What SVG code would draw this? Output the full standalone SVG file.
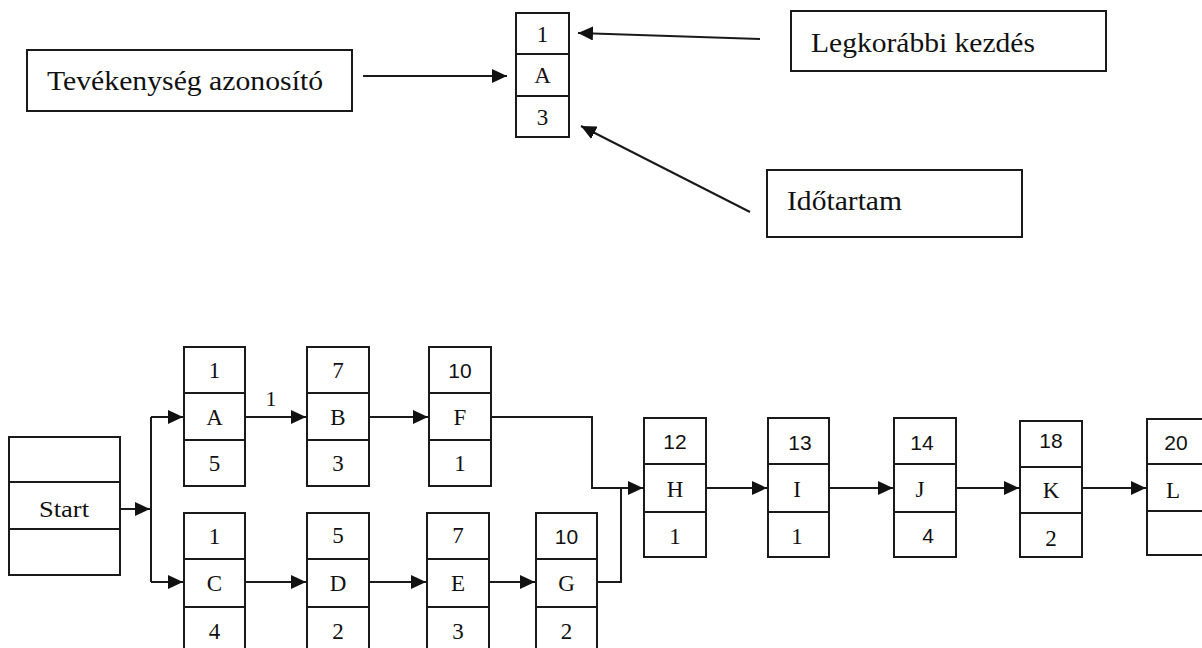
<svg xmlns="http://www.w3.org/2000/svg" width="1202" height="648" viewBox="0 0 1202 648">
  <defs>
    <marker id="arrow" markerUnits="userSpaceOnUse" markerWidth="16" markerHeight="14" refX="15" refY="7" orient="auto">
      <path d="M0,0 L15,7 L0,14 z" fill="#111"/>
    </marker>
    <style>
      .box { fill: #fff; stroke: #1a1a1a; stroke-width: 2; }
      .div { stroke: #1a1a1a; stroke-width: 2; }
      .conn { fill: none; stroke: #1a1a1a; stroke-width: 2; }
      .arr { marker-end: url(#arrow); }
      .lbl { font-family: "Liberation Serif", serif; font-size: 27px; fill: #111; }
      .mono { font-family: "Liberation Serif", serif; font-size: 23px; fill: #111; text-anchor: middle; }
      .sans { font-family: "Liberation Sans", sans-serif; font-size: 21px; fill: #111; text-anchor: middle; }
      .srf { font-family: "Liberation Serif", serif; font-size: 24px; fill: #111; text-anchor: middle; }
    </style>
  </defs>
  <rect width="1202" height="648" fill="#fff"/>

  <!-- legend -->
  <g id="legend-id">
    <rect class="box" x="27" y="50" width="325" height="61"/>
    <text class="lbl" x="47" y="90" textLength="276" lengthAdjust="spacingAndGlyphs">Tevékenység azonosító</text>
  </g>
  <g id="legend-node">
    <rect class="box" x="516" y="13" width="53" height="124"/>
    <line class="div" x1="516" y1="54" x2="569" y2="54"/>
    <line class="div" x1="516" y1="96" x2="569" y2="96"/>
    <text class="mono" x="542.5" y="42">1</text>
    <text class="mono" x="542.5" y="83">A</text>
    <text class="mono" x="542.5" y="125">3</text>
  </g>
  <g id="legend-start">
    <rect class="box" x="791" y="11" width="315" height="60"/>
    <text class="lbl" x="811" y="52" textLength="224" lengthAdjust="spacingAndGlyphs">Legkorábbi kezdés</text>
  </g>
  <g id="legend-duration">
    <rect class="box" x="767" y="170" width="255" height="67"/>
    <text class="lbl" x="787" y="210" textLength="115" lengthAdjust="spacingAndGlyphs">Időtartam</text>
  </g>

  <!-- network nodes -->
  <g id="node-start">
    <rect class="box" x="9" y="437" width="111" height="138"/>
    <line class="div" x1="9" y1="482" x2="120" y2="482"/>
    <line class="div" x1="9" y1="529" x2="120" y2="529"/>
    <text class="srf" x="64" y="517" textLength="50" lengthAdjust="spacingAndGlyphs">Start</text>
  </g>
  <g id="node-a">
    <rect class="box" x="184" y="347" width="61" height="139"/>
    <line class="div" x1="184" y1="393" x2="245" y2="393"/>
    <line class="div" x1="184" y1="440" x2="245" y2="440"/>
    <text class="mono" x="214.5" y="378">1</text>
    <text class="mono" x="214.5" y="425">A</text>
    <text class="mono" x="214.5" y="471">5</text>
  </g>
  <g id="node-b">
    <rect class="box" x="307" y="347" width="62" height="139"/>
    <line class="div" x1="307" y1="393" x2="369" y2="393"/>
    <line class="div" x1="307" y1="440" x2="369" y2="440"/>
    <text class="mono" x="338" y="378">7</text>
    <text class="mono" x="338" y="425">B</text>
    <text class="mono" x="338" y="471">3</text>
  </g>
  <g id="node-f">
    <rect class="box" x="429" y="347" width="62" height="139"/>
    <line class="div" x1="429" y1="393" x2="491" y2="393"/>
    <line class="div" x1="429" y1="440" x2="491" y2="440"/>
    <text class="sans" x="460" y="378">10</text>
    <text class="mono" x="460" y="425">F</text>
    <text class="mono" x="460" y="471">1</text>
  </g>
  <g id="node-c">
    <rect class="box" x="184" y="513" width="61" height="141"/>
    <line class="div" x1="184" y1="559" x2="245" y2="559"/>
    <line class="div" x1="184" y1="607" x2="245" y2="607"/>
    <text class="mono" x="214.5" y="544">1</text>
    <text class="mono" x="214.5" y="591">C</text>
    <text class="mono" x="214.5" y="639">4</text>
  </g>
  <g id="node-d">
    <rect class="box" x="307" y="513" width="62" height="141"/>
    <line class="div" x1="307" y1="559" x2="369" y2="559"/>
    <line class="div" x1="307" y1="607" x2="369" y2="607"/>
    <text class="mono" x="338" y="543">5</text>
    <text class="mono" x="338" y="591">D</text>
    <text class="mono" x="338" y="639">2</text>
  </g>
  <g id="node-e">
    <rect class="box" x="427" y="513" width="62" height="141"/>
    <line class="div" x1="427" y1="559" x2="489" y2="559"/>
    <line class="div" x1="427" y1="607" x2="489" y2="607"/>
    <text class="mono" x="458" y="543">7</text>
    <text class="mono" x="458" y="591">E</text>
    <text class="mono" x="458" y="639">3</text>
  </g>
  <g id="node-g">
    <rect class="box" x="536" y="513" width="61" height="141"/>
    <line class="div" x1="536" y1="559" x2="597" y2="559"/>
    <line class="div" x1="536" y1="607" x2="597" y2="607"/>
    <text class="sans" x="566.5" y="544">10</text>
    <text class="mono" x="566.5" y="591">G</text>
    <text class="mono" x="566.5" y="639">2</text>
  </g>
  <g id="node-h">
    <rect class="box" x="644" y="418" width="62" height="139"/>
    <line class="div" x1="644" y1="464" x2="706" y2="464"/>
    <line class="div" x1="644" y1="512" x2="706" y2="512"/>
    <text class="sans" x="675" y="449">12</text>
    <text class="mono" x="675" y="497">H</text>
    <text class="mono" x="675" y="544">1</text>
  </g>
  <g id="node-i">
    <rect class="box" x="768" y="418" width="61" height="139"/>
    <line class="div" x1="768" y1="464" x2="829" y2="464"/>
    <line class="div" x1="768" y1="512" x2="829" y2="512"/>
    <text class="sans" x="800" y="450">13</text>
    <text class="mono" x="797" y="497">I</text>
    <text class="mono" x="797" y="544">1</text>
  </g>
  <g id="node-j">
    <rect class="box" x="894" y="418" width="62" height="139"/>
    <line class="div" x1="894" y1="464" x2="956" y2="464"/>
    <line class="div" x1="894" y1="512" x2="956" y2="512"/>
    <text class="sans" x="922" y="450">14</text>
    <text class="mono" x="920" y="497">J</text>
    <text class="sans" x="928" y="543">4</text>
  </g>
  <g id="node-k">
    <rect class="box" x="1020" y="421" width="62" height="136"/>
    <line class="div" x1="1020" y1="467" x2="1082" y2="467"/>
    <line class="div" x1="1020" y1="513" x2="1082" y2="513"/>
    <text class="sans" x="1051" y="448">18</text>
    <text class="mono" x="1051" y="498">K</text>
    <text class="mono" x="1051" y="546">2</text>
  </g>
  <g id="node-l">
    <rect class="box" x="1147" y="419" width="62" height="136"/>
    <line class="div" x1="1147" y1="464" x2="1209" y2="464"/>
    <line class="div" x1="1147" y1="511" x2="1209" y2="511"/>
    <text class="sans" x="1176" y="450">20</text>
    <text class="mono" x="1173" y="498">L</text>
  </g>

  <!-- connectors -->
  <g id="connectors">
    <path class="conn arr" d="M363,76 H507"/>
    <path class="conn arr" d="M760,39 L578,33"/>
    <path class="conn arr" d="M750,212 L581,126"/>

    <path class="conn arr" d="M120,509 H150"/>
    <path class="conn" d="M151,417 V582"/>
    <path class="conn arr" d="M151,417 H183"/>
    <path class="conn arr" d="M151,582 H183"/>
    <path class="conn arr" d="M245,417 H306"/>
    <text class="srf" x="271" y="406" style="font-size:22px">1</text>
    <path class="conn arr" d="M369,417 H428"/>
    <path class="conn arr" d="M491,417 H592 V488 H643"/>
    <path class="conn arr" d="M245,582 H306"/>
    <path class="conn arr" d="M369,582 H426"/>
    <path class="conn arr" d="M489,582 H535"/>
    <path class="conn" d="M597,582 H621 V488"/>
    <path class="conn arr" d="M706,488 H767"/>
    <path class="conn arr" d="M829,488 H893"/>
    <path class="conn arr" d="M956,488 H1019"/>
    <path class="conn arr" d="M1082,488 H1146"/>
  </g>
</svg>
